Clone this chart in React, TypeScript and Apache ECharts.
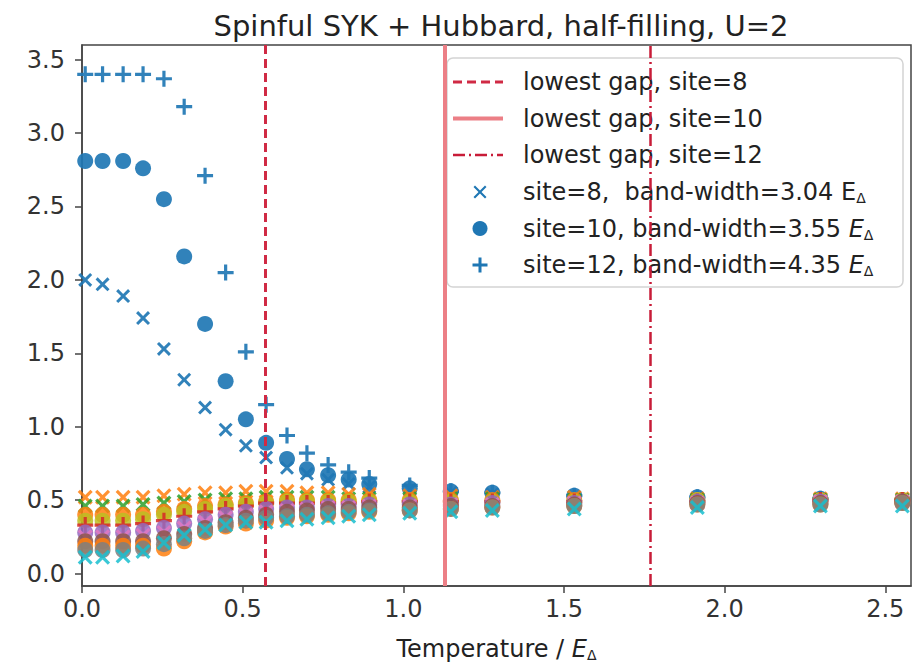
import React, { useEffect, useRef } from "react";
import * as echarts from "echarts";

// ---- data ----
const temperature = [0.01, 0.064, 0.128, 0.19, 0.255, 0.318, 0.383, 0.447, 0.51, 0.573, 0.638, 0.7, 0.766, 0.83, 0.894, 1.02, 1.148, 1.277, 1.532, 1.915, 2.298, 2.553];

const site8Main = [2.0, 1.97, 1.89, 1.74, 1.53, 1.32, 1.13, 0.98, 0.87, 0.79, 0.72, 0.68, 0.64, 0.61, 0.59, 0.57, 0.55, 0.54, 0.52, 0.51, 0.5, 0.5];
const site10Main = [2.81, 2.81, 2.81, 2.76, 2.55, 2.16, 1.7, 1.31, 1.05, 0.89, 0.78, 0.71, 0.67, 0.64, 0.61, 0.58, 0.56, 0.55, 0.53, 0.52, 0.51, 0.5];
const site12Main = [3.4, 3.4, 3.4, 3.4, 3.37, 3.18, 2.71, 2.05, 1.51, 1.15, 0.94, 0.82, 0.74, 0.69, 0.65, 0.6, 0.56, 0.55, 0.53, 0.52, 0.51, 0.5];

const bandOrangeTop = [0.52, 0.52, 0.52, 0.52, 0.53, 0.54, 0.55, 0.55, 0.56, 0.56, 0.56, 0.55, 0.55, 0.54, 0.54, 0.53, 0.53, 0.52, 0.52, 0.51, 0.51, 0.51];
const bandGreen = [0.46, 0.46, 0.46, 0.47, 0.48, 0.49, 0.5, 0.51, 0.51, 0.52, 0.52, 0.52, 0.52, 0.51, 0.51, 0.51, 0.51, 0.51, 0.5, 0.5, 0.5, 0.5];
const bandOrangeMid = [0.4, 0.4, 0.4, 0.4, 0.42, 0.44, 0.46, 0.47, 0.48, 0.49, 0.5, 0.5, 0.5, 0.5, 0.5, 0.5, 0.5, 0.5, 0.5, 0.5, 0.5, 0.5];
const bandOlive = [0.36, 0.36, 0.36, 0.37, 0.4, 0.42, 0.44, 0.46, 0.47, 0.48, 0.49, 0.49, 0.49, 0.49, 0.49, 0.49, 0.49, 0.49, 0.49, 0.5, 0.5, 0.5];
const bandRed = [0.33, 0.33, 0.33, 0.34, 0.36, 0.39, 0.42, 0.44, 0.46, 0.48, 0.48, 0.48, 0.48, 0.48, 0.49, 0.49, 0.49, 0.49, 0.49, 0.49, 0.5, 0.5];
const bandPurple = [0.28, 0.28, 0.28, 0.29, 0.31, 0.34, 0.37, 0.4, 0.42, 0.44, 0.45, 0.45, 0.46, 0.46, 0.47, 0.47, 0.47, 0.48, 0.48, 0.49, 0.49, 0.49];
const bandPink = [0.25, 0.25, 0.25, 0.26, 0.28, 0.31, 0.35, 0.38, 0.4, 0.42, 0.43, 0.44, 0.45, 0.45, 0.46, 0.46, 0.47, 0.47, 0.48, 0.48, 0.49, 0.49];
const bandBrown = [0.22, 0.22, 0.22, 0.22, 0.24, 0.27, 0.31, 0.35, 0.38, 0.4, 0.42, 0.43, 0.44, 0.44, 0.45, 0.45, 0.46, 0.46, 0.47, 0.48, 0.48, 0.49];
const bandOrangeLow = [0.19, 0.19, 0.19, 0.19, 0.17, 0.22, 0.28, 0.32, 0.34, 0.36, 0.38, 0.39, 0.4, 0.41, 0.42, 0.43, 0.44, 0.45, 0.46, 0.47, 0.47, 0.48];
const bandGray = [0.16, 0.16, 0.16, 0.17, 0.2, 0.24, 0.29, 0.33, 0.36, 0.38, 0.39, 0.4, 0.41, 0.42, 0.43, 0.43, 0.44, 0.45, 0.46, 0.47, 0.47, 0.48];
const bandCyan = [0.11, 0.11, 0.12, 0.15, 0.21, 0.26, 0.3, 0.33, 0.35, 0.35, 0.36, 0.37, 0.38, 0.39, 0.4, 0.41, 0.42, 0.43, 0.44, 0.45, 0.46, 0.46];

const gapSite8 = 0.567;
const gapSite10 = 1.133;
const gapSite12 = 1.767;

const xTicks = [0, 0.5, 1, 1.5, 2, 2.5];
const yTicks = [0, 0.5, 1, 1.5, 2, 2.5, 3, 3.5];

const legendLabels = [
  "lowest gap, site=8",
  "lowest gap, site=10",
  "lowest gap, site=12",
];

// ---- styling ----
const FONT = "DejaVu Sans";
const BLUE = "#1f77b4";
const X_PATH = "path://M1.5,0L5,3.5L8.5,0L10,1.5L6.5,5L10,8.5L8.5,10L5,6.5L1.5,10L0,8.5L3.5,5L0,1.5Z";
const PLUS_PATH = "path://M4,0H6V4H10V6H6V10H4V6H0V4H4Z";

const GRID = { left: 82, right: 13, top: 45, bottom: 80 };

function scatter(name: string, values: number[], symbol: string, size: number, color: string, z: number, opacity = 0.92) {
  return {
    type: "scatter",
    name,
    data: temperature.map((t, i) => [t, values[i]]),
    symbol,
    symbolSize: size,
    itemStyle: { color, opacity },
    z,
    silent: true,
  };
}

function xPoly(cx: number, cy: number, s: number, w: number) {
  const a = s / 2;
  const d = w / 2;
  return [
    [cx - a, cy - a + d], [cx - a + d, cy - a], [cx, cy - d], [cx + a - d, cy - a], [cx + a, cy - a + d],
    [cx + d, cy], [cx + a, cy + a - d], [cx + a - d, cy + a], [cx, cy + d], [cx - a + d, cy + a],
    [cx - a, cy + a - d], [cx - d, cy],
  ];
}
function plusPoly(cx: number, cy: number, s: number, w: number) {
  const a = s / 2;
  const d = w / 2;
  return [
    [cx - d, cy - a], [cx + d, cy - a], [cx + d, cy - d], [cx + a, cy - d], [cx + a, cy + d], [cx + d, cy + d],
    [cx + d, cy + a], [cx - d, cy + a], [cx - d, cy + d], [cx - a, cy + d], [cx - a, cy - d], [cx - d, cy - d],
  ];
}

export default function App() {
  const ref = useRef<HTMLDivElement>(null);

  useEffect(() => {
    document.body.style.margin = "0";
    if (!ref.current) return;
    const chart = echarts.init(ref.current, undefined, { renderer: "svg" });

    const lx0 = 453, lx1 = 503, mx = 480, tx = 523;
    const rowY = [82, 118.5, 155, 192, 228.5, 265];
    const lineStyles = [
      { stroke: "#d02a44", lineWidth: 3, lineDash: [9, 5] },
      { stroke: "#ec7f86", lineWidth: 4 },
      { stroke: "#c81c38", lineWidth: 2.5, lineDash: [12, 4, 2, 4] },
    ];
    const rich = {
      e: { fontSize: 24, fontFamily: FONT, fill: "#222" },
      ei: { fontSize: 24, fontFamily: FONT, fontStyle: "italic", fill: "#222" },
      s: { fontSize: 14, fontFamily: FONT, fill: "#222", padding: [12, 0, 0, 0] },
    };
    const legendTexts = [
      legendLabels[0],
      legendLabels[1],
      legendLabels[2],
      "site=8,  band-width=3.04 {e|E}{s|Δ}",
      "site=10, band-width=3.55 {ei|E}{s|Δ}",
      "site=12, band-width=4.35 {ei|E}{s|Δ}",
    ];

    const legendChildren: any[] = [
      {
        type: "rect",
        shape: { x: 447, y: 58, width: 456, height: 229, r: 6 },
        style: { fill: "rgba(255,255,255,0.8)", stroke: "#d4d4d4", lineWidth: 1.5 },
      },
    ];
    lineStyles.forEach((ls, i) => {
      legendChildren.push({
        type: "line",
        shape: { x1: lx0, y1: rowY[i], x2: lx1, y2: rowY[i] },
        style: ls,
      });
    });
    legendChildren.push({ type: "polygon", shape: { points: xPoly(mx, rowY[3], 13, 3) }, style: { fill: BLUE } });
    legendChildren.push({ type: "circle", shape: { cx: mx, cy: rowY[4], r: 7.5 }, style: { fill: BLUE } });
    legendChildren.push({ type: "polygon", shape: { points: plusPoly(mx, rowY[5], 15, 3) }, style: { fill: BLUE } });
    legendTexts.forEach((t, i) => {
      legendChildren.push({
        type: "text",
        style: {
          text: t,
          x: tx,
          y: rowY[i],
          fontSize: 24,
          fontFamily: FONT,
          fill: "#222",
          verticalAlign: "middle",
          align: "left",
          rich,
        },
      });
    });

    const bands: [string, number[], string, number, string][] = [
      ["orange top", bandOrangeTop, X_PATH, 15, "#ff7f0e"],
      ["green", bandGreen, X_PATH, 15, "#2ca02c"],
      ["orange mid", bandOrangeMid, "circle", 16, "#ff7f0e"],
      ["olive", bandOlive, "circle", 16, "#bcbd22"],
      ["red", bandRed, PLUS_PATH, 16, "#d62728"],
      ["purple", bandPurple, "circle", 16, "#9467bd"],
      ["pink", bandPink, X_PATH, 15, "#e377c2"],
      ["brown", bandBrown, "circle", 16, "#8c564b"],
      ["orange low", bandOrangeLow, "circle", 16, "#ff7f0e"],
      ["gray", bandGray, "circle", 16, "#7f7f7f"],
      ["cyan", bandCyan, X_PATH, 15, "#17becf"],
    ];

    const series: any[] = [
      scatter("site=8, band-width=3.04", site8Main, X_PATH, 14, BLUE, 3),
      scatter("site=10, band-width=3.55", site10Main, "circle", 16, BLUE, 3),
      scatter("site=12, band-width=4.35", site12Main, PLUS_PATH, 16, BLUE, 3),
      ...bands.map((b, i) => scatter(b[0], b[1], b[2], b[3], b[4], 4 + i * 0.01, 0.85)),
      {
        type: "line",
        name: "lowest gaps",
        data: [],
        z: 6,
        silent: true,
        markLine: {
          silent: true,
          symbol: ["none", "none"],
          label: { show: false },
          animation: false,
          data: [
            { xAxis: gapSite8, lineStyle: { color: "#d02a44", width: 3, type: [9, 5] } },
            { xAxis: gapSite10, lineStyle: { color: "#ec7f86", width: 4, type: "solid" } },
            { xAxis: gapSite12, lineStyle: { color: "#c81c38", width: 2.5, type: [12, 4, 2, 4] } },
          ],
        },
      },
    ];

    chart.setOption({
      animation: false,
      backgroundColor: "#ffffff",
      title: {
        text: "Spinful SYK + Hubbard, half-filling, U=2",
        left: 496,
        top: 6,
        textAlign: "center",
        textStyle: { fontSize: 29, fontWeight: "normal", color: "#222", fontFamily: FONT },
      },
      grid: { ...GRID, show: true, borderColor: "#444", borderWidth: 1.5, backgroundColor: "transparent" },
      xAxis: {
        type: "value",
        min: 0,
        max: 2.58,
        name: "{a|Temperature / }{e|E}{s|Δ}",
        nameLocation: "middle",
        nameGap: 50,
        nameTextStyle: {
          rich: {
            a: { fontSize: 24, fontFamily: FONT, color: "#222" },
            e: { fontSize: 24, fontFamily: FONT, fontStyle: "italic", color: "#222" },
            s: { fontSize: 14, fontFamily: FONT, color: "#222", padding: [12, 0, 0, 0] },
          },
        },
        axisLine: { show: true, onZero: false, lineStyle: { color: "#444", width: 1.5 } },
        axisTick: { show: true, length: 7, inside: false, customValues: xTicks, lineStyle: { color: "#444", width: 1.5 } },
        axisLabel: {
          customValues: xTicks,
          formatter: (v: number) => v.toFixed(1),
          fontSize: 24,
          fontFamily: FONT,
          color: "#333",
          margin: 11,
        },
        splitLine: { show: false },
      },
      yAxis: {
        type: "value",
        min: -0.085,
        max: 3.6,
        axisLine: { show: true, onZero: false, lineStyle: { color: "#444", width: 1.5 } },
        axisTick: { show: true, length: 7, inside: false, customValues: yTicks, lineStyle: { color: "#444", width: 1.5 } },
        axisLabel: {
          customValues: yTicks,
          formatter: (v: number) => v.toFixed(1),
          fontSize: 24,
          fontFamily: FONT,
          color: "#333",
          margin: 17,
        },
        splitLine: { show: false },
      },
      series,
      graphic: [{ type: "group", z: 100, children: legendChildren }],
    });

    return () => chart.dispose();
  }, []);

  return <div ref={ref} style={{ width: 924, height: 667 }} />;
}
